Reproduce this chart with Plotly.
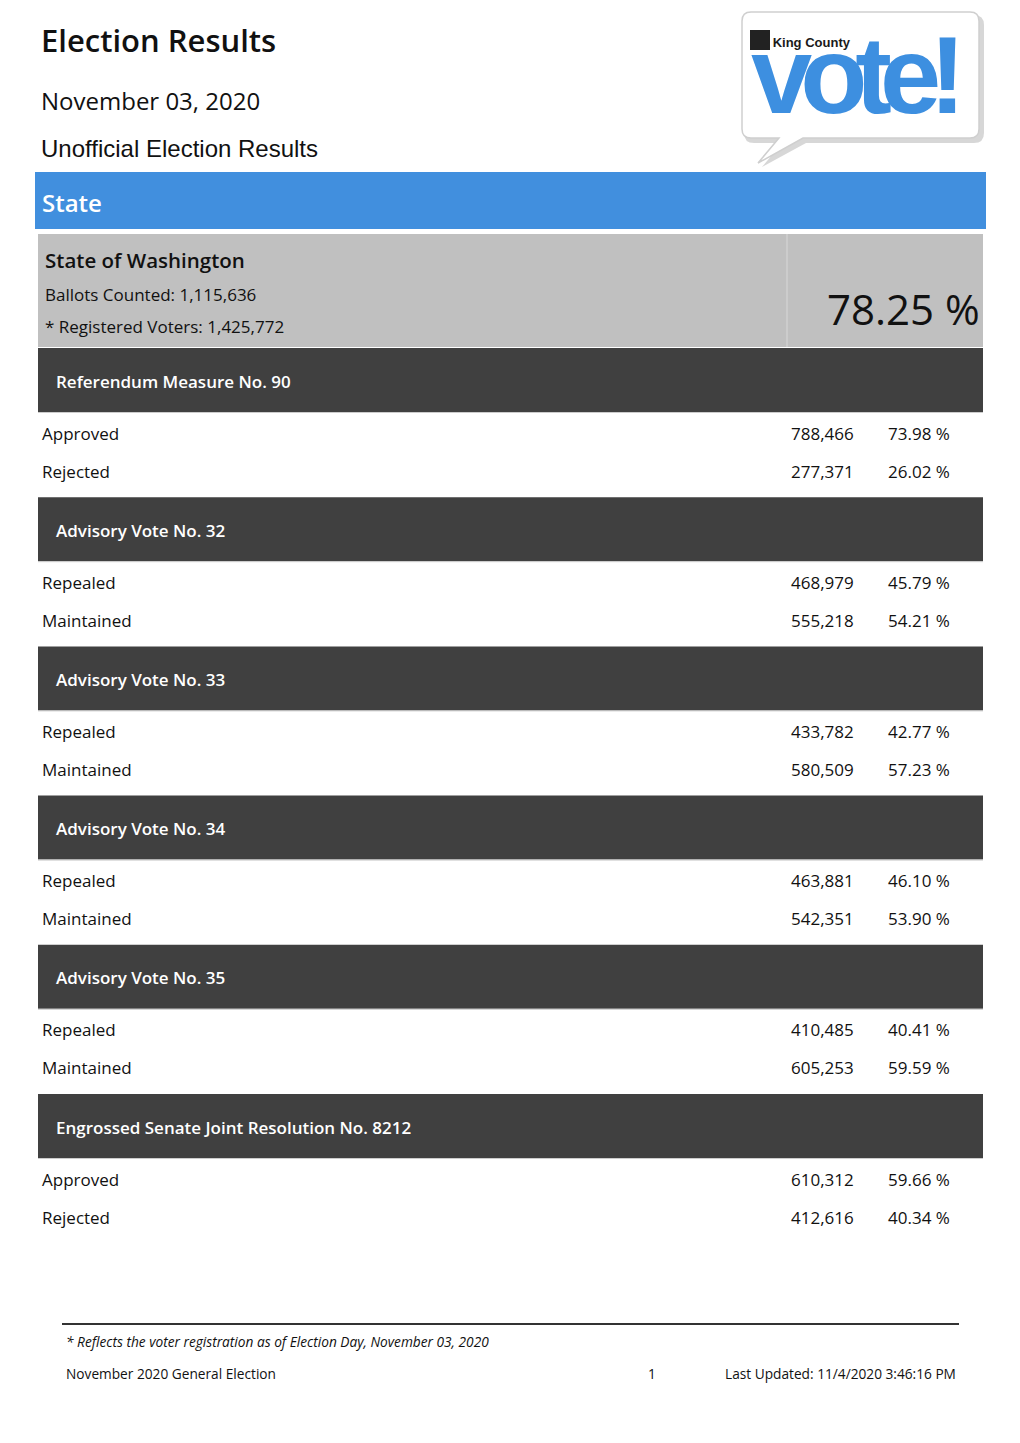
import plotly.graph_objects as go

# ---------------- data ----------------
measures = [
    "Referendum Measure No. 90",
    "Advisory Vote No. 32",
    "Advisory Vote No. 33",
    "Advisory Vote No. 34",
    "Advisory Vote No. 35",
    "Engrossed Senate Joint Resolution No. 8212",
]
choices = [
    ["Approved", "Rejected"],
    ["Repealed", "Maintained"],
    ["Repealed", "Maintained"],
    ["Repealed", "Maintained"],
    ["Repealed", "Maintained"],
    ["Approved", "Rejected"],
]
votes = [
    [788466, 277371],
    [468979, 555218],
    [433782, 580509],
    [463881, 542351],
    [410485, 605253],
    [610312, 412616],
]
percents = [
    [73.98, 26.02],
    [45.79, 54.21],
    [42.77, 57.23],
    [46.10, 53.90],
    [40.41, 59.59],
    [59.66, 40.34],
]
ballots_counted = 1115636
registered_voters = 1425772
turnout_pct = 78.25

W, H = 1020, 1443
OFF = 8  # page body margin
FONT = "Open Sans"
DARK = "#404040"
BLUE = "#418fde"
GRAY = "#c0c0c0"

fig = go.Figure()
shapes = []
ann = []


def text(x, y, s, size, color="#111111", xanchor="left", family=FONT, weight=400, italic=False):
    if xanchor == "left":
        x -= 2
    elif xanchor == "right":
        x += 3
    ann.append(dict(x=x, y=y, xref="x", yref="y", text=s, showarrow=False,
                    xanchor=xanchor, yanchor="middle",
                    font=dict(family=family, size=size, color=color, weight=weight,
                              style="italic" if italic else "normal")))


def rect(x0, y0, x1, y1, fill, line=None, lw=0):
    shapes.append(dict(type="rect", xref="x", yref="y", x0=x0, y0=y0, x1=x1, y1=y1,
                       fillcolor=fill, line=dict(color=line or fill, width=lw), layer="below"))


# ---------------- header ----------------
text(41, 40, "Election Results", 31, weight=600)
text(41, 100, "November 03, 2020", 24)
text(41, 148, "Unofficial Election Results", 24, family="Liberation Sans")

# logo (speech bubble)
shapes.append(dict(type="path", xref="x", yref="y",
                   path="M 754 15 L 974 15 Q 984 15 984 25 L 984 133 Q 984 143 974 143 "
                        "L 806 143 L 762 167 L 782 143 L 754 143 Q 744 143 744 133 L 744 25 Q 744 15 754 15 Z",
                   fillcolor="#bdbdbd", line=dict(width=0), layer="below", opacity=0.6))
shapes.append(dict(type="path", xref="x", yref="y",
                   path="M 751 12 L 970 12 Q 979 12 979 21 L 979 129 Q 979 138 970 138 "
                        "L 803 138 L 758 163 L 779 138 L 751 138 Q 742 138 742 129 L 742 21 Q 742 12 751 12 Z",
                   fillcolor="#ffffff", line=dict(color="#cfcfcf", width=1.5), layer="below"))
rect(750, 30, 770, 50, "#222222")
logo_top = "King County"
logo_word = "vote!"
logo_text = ("<span style='font-size:13px;font-weight:bold;fill:#1a1a1a'>"
             + "&nbsp;" * 6 + logo_top + "</span><br>"
             + "<span style='font-size:110px;font-weight:bold;letter-spacing:-12px'>"
             + logo_word + "</span>")
ann.append(dict(x=749, y=11, xref="x", yref="y", text=logo_text, showarrow=False,
                xanchor="left", yanchor="top", align="left",
                font=dict(family="Liberation Sans", size=51, color="#3d8fe0")))

# ---------------- State bar ----------------
rect(35, 172, 986, 229, BLUE)
text(42, 202, "State", 24, color="#ffffff", weight=600)

# summary box
rect(38, 234, 983, 347, GRAY)
shapes.append(dict(type="line", xref="x", yref="y", x0=787, x1=787, y0=234, y1=347,
                   line=dict(color="#d8d8d8", width=1)))
text(45, 260, "State of Washington", 20.5, weight=600)
text(45, 294, f"Ballots Counted: {ballots_counted:,}", 17)
text(45, 326, f"* Registered Voters: {registered_voters:,}", 17)
text(979, 308, f"{turnout_pct:.2f} %", 42, xanchor="right")

# ---------------- measures ----------------
top0 = 348
step = 149.2
for i, m in enumerate(measures):
    top = top0 + i * step
    rect(38, top, 983, top + 64, DARK)
    shapes.append(dict(type="line", xref="x", yref="y", x0=38, x1=983, y0=top + 64.5, y1=top + 64.5,
                       line=dict(color="#cccccc", width=1)))
    text(56, top + 33, m, 17, color="#ffffff", weight=600)
    for j in range(2):
        y = top + 85 + j * 38
        text(42, y, choices[i][j], 17)
        text(853, y, f"{votes[i][j]:,}", 17, xanchor="right")
        text(888, y, f"{percents[i][j]:.2f} %", 17)

# ---------------- footer ----------------
shapes.append(dict(type="line", xref="x", yref="y", x0=62, x1=959, y0=1324, y1=1324,
                   line=dict(color="#333333", width=2)))
text(66, 1341, "* Reflects the voter registration as of Election Day, November 03, 2020", 13.7, italic=True)
text(66, 1373, "November 2020 General Election", 13.7)
text(652, 1373, "1", 13.7, xanchor="center")
text(955, 1373, "Last Updated: 11/4/2020 3:46:16 PM", 13.7, xanchor="right")

fig.update_layout(
    width=W, height=H, autosize=False,
    margin=dict(l=0, r=0, t=0, b=0),
    paper_bgcolor="#ffffff", plot_bgcolor="#ffffff",
    xaxis=dict(range=[OFF, W + OFF], visible=False, fixedrange=True),
    yaxis=dict(range=[H + OFF, OFF], visible=False, fixedrange=True),
    shapes=shapes, annotations=ann, showlegend=False,
)
fig.write_html("out.html", config={"displayModeBar": False})
